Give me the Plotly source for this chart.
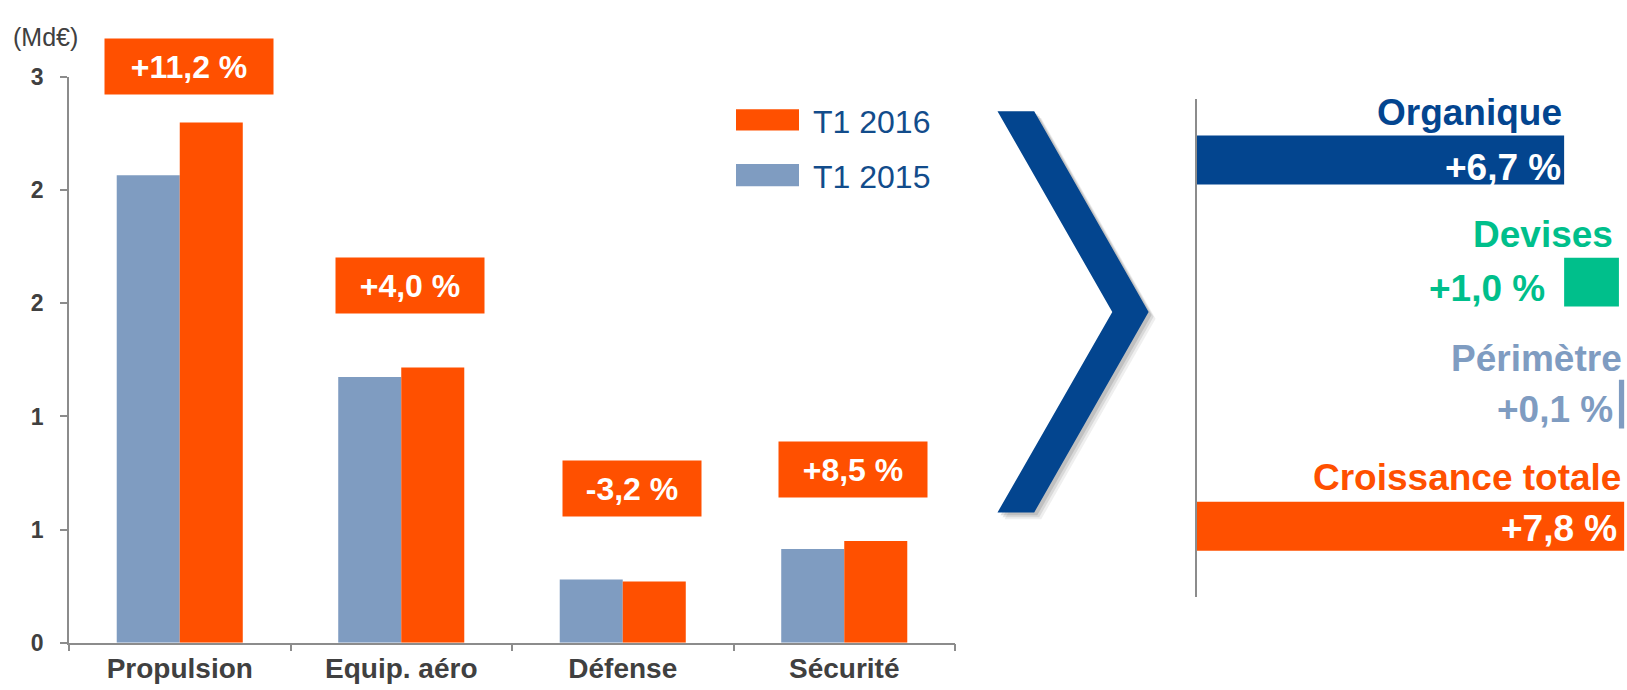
import plotly.graph_objects as go

# ---------------- data ----------------
categories = ["Propulsion", "Equip. aéro", "Défense", "Sécurité"]
t1_2015 = [2.48, 1.41, 0.335, 0.497]
t1_2016 = [2.76, 1.46, 0.324, 0.539]
growth_labels = ["+11,2 %", "+4,0 %", "-3,2 %", "+8,5 %"]
y_ticks = [0, 0.6, 1.2, 1.8, 2.4, 3.0]

bridge_cats = ["Organique", "Devises", "Périmètre", "Croissance totale"]
bridge_vals = [6.7, 1.0, 0.1, 7.8]
bridge_labels = ["+6,7 %", "+1,0 %", "+0,1 %", "+7,8 %"]

# ---------------- styles ----------------
W, H = 1627, 690
ORANGE = "#FF5000"
GREYBLUE = "#7F9CC1"
DARKBLUE = "#03458F"
GREEN = "#00BF8B"
TXT = "#404040"
AXIS = "#8C8C8C"
SANS = "Liberation Sans, Arial, sans-serif"


def fx(px):
    return px / W


def fy(py):
    return 1 - py / H


fig = go.Figure()

fig.add_trace(go.Bar(x=categories, y=t1_2015, name="T1 2015",
                     marker=dict(color=GREYBLUE, line=dict(width=0)),
                     xaxis="x", yaxis="y", showlegend=False))
fig.add_trace(go.Bar(x=categories, y=t1_2016, name="T1 2016",
                     marker=dict(color=ORANGE, line=dict(width=0)),
                     xaxis="x", yaxis="y", showlegend=False))

# right bridge chart
bases = [0, bridge_vals[0], bridge_vals[0] + bridge_vals[1], 0]
bridge_colors = [DARKBLUE, GREEN, GREYBLUE, ORANGE]
fig.add_trace(go.Bar(y=bridge_cats, x=bridge_vals, base=bases, orientation="h",
                     marker=dict(color=bridge_colors, line=dict(width=0)),
                     width=0.4, xaxis="x3", yaxis="y3", showlegend=False))

annotations = []

# growth boxes on the left chart (vertical placement in pixels)
box_cy = [55.3, 283.5, 494.5, 474.5]
box_w = [168, 148, 138, 148]
for i, cat in enumerate(categories):
    annotations.append(dict(
        x=cat, y=fy(box_cy[i]), xref="x", yref="paper",
        text="<b>" + growth_labels[i] + "</b>", showarrow=False,
        xshift=9, bgcolor=ORANGE, width=box_w[i], height=55, borderpad=0,
        font=dict(family=SANS, size=32, color="white"),
        xanchor="center", yanchor="middle"))

# unit label
annotations.append(dict(x=fx(11), y=fy(25), xref="paper", yref="paper",
                        text="(Md€)", showarrow=False, xanchor="left",
                        yanchor="middle",
                        font=dict(family=SANS, size=25, color=TXT)))

# manual legend
leg_items = [("T1 2016", ORANGE, 100, 122), ("T1 2015", GREYBLUE, 157, 180)]
shapes = []
for name, col, y0, y1 in leg_items:
    shapes.append(dict(type="rect", xref="paper", yref="paper",
                       x0=fx(736), x1=fx(799), y0=fy(y1), y1=fy(y0),
                       fillcolor=col, line=dict(width=0)))
    annotations.append(dict(x=fx(811), y=fy((y0 + y1) / 2 + 2), xref="paper",
                            yref="paper", text=name, showarrow=False,
                            xanchor="left", yanchor="middle",
                            font=dict(family=SANS, size=32, color="#124C8B")))

# chevron with soft shadow
chev = [(997.5, 102), (1034.2, 102), (1148.6, 310.7), (1034.2, 519),
        (997.5, 519), (1112.3, 310.7)]


def chev_path(dx, dy):
    pts = ["{:.5f},{:.5f}".format(fx(px + dx), fy(py + dy)) for px, py in chev]
    return "M" + " L".join(pts) + " Z"


for d, op in [(7, 0.10), (5, 0.15), (3, 0.2)]:
    shapes.append(dict(type="path", xref="paper", yref="paper",
                       path=chev_path(d, d), fillcolor="#606060", opacity=op,
                       line=dict(width=0), layer="below"))
shapes.append(dict(type="path", xref="paper", yref="paper",
                   path=chev_path(0, 0), fillcolor=DARKBLUE,
                   line=dict(width=0)))

# bridge labels
title_cols = [DARKBLUE, GREEN, GREYBLUE, ORANGE]
title_xshift = [-1, -5, -1, -2]
title_yshift = [47, 48, 45.5, 49]
ends = [b + v for b, v in zip(bases, bridge_vals)]
for i, cat in enumerate(bridge_cats):
    annotations.append(dict(x=ends[i], y=cat, xref="x3", yref="y3",
                            text="<b>" + cat + "</b>", showarrow=False,
                            xanchor="right", yanchor="middle", borderpad=0,
                            xshift=title_xshift[i], yshift=title_yshift[i],
                            font=dict(family=SANS, size=37,
                                      color=title_cols[i])))
# values
val_x = [ends[0], bases[1], bases[2], ends[3]]
val_xshift = [-2, -18, -5, -6]
val_yshift = [-8, -6, -5.5, -2]
val_col = ["white", GREEN, GREYBLUE, "white"]
for i, cat in enumerate(bridge_cats):
    annotations.append(dict(x=val_x[i], y=cat, xref="x3", yref="y3",
                            text="<b>" + bridge_labels[i] + "</b>",
                            showarrow=False, xanchor="right", yanchor="middle",
                            borderpad=0,
                            xshift=val_xshift[i], yshift=val_yshift[i],
                            font=dict(family=SANS, size=37,
                                      color=val_col[i])))

tick_text = ["<b>{:.0f}</b>".format(v) for v in y_ticks]

fig.update_layout(
    width=W, height=H,
    margin=dict(l=0, r=0, t=0, b=0),
    paper_bgcolor="white", plot_bgcolor="white",
    barmode="group", bargap=0.431, bargroupgap=0,
    font=dict(family=SANS, color=TXT),
    xaxis=dict(type="category", domain=[fx(69), fx(955)], range=[-0.5, 3.5],
               showline=True, linecolor=AXIS, linewidth=1.5,
               ticks="outside", tickson="boundaries", ticklen=7,
               tickcolor=AXIS, tickwidth=1.5, showgrid=False, zeroline=False,
               tickprefix="<b>", ticksuffix="</b>",
               tickfont=dict(family=SANS, size=28, color=TXT), anchor="y"),
    yaxis=dict(domain=[fy(654.3), fy(66.7)], range=[0, 3], tickvals=y_ticks,
               ticktext=tick_text,
               showline=True, linecolor=AXIS, linewidth=1.5, ticks="outside",
               ticklen=7, tickcolor=AXIS, tickwidth=1.5, showgrid=False,
               zeroline=False, ticklabelstandoff=12,
               tickfont=dict(family=SANS, size=23, color=TXT), anchor="x"),
    xaxis3=dict(domain=[fx(1197), fx(1624.4)], range=[0, 7.8],
                visible=False, anchor="y3"),
    yaxis3=dict(domain=[fy(606.6), fy(89.3)], type="category",
                autorange="reversed", showline=True, linecolor=AXIS,
                linewidth=1.5, showticklabels=False, ticks="",
                showgrid=False, zeroline=False, anchor="x3"),
    annotations=annotations,
    shapes=shapes,
    showlegend=False,
)

fig.write_html(
    "out.html",
    config={"displayModeBar": False},
    post_script="document.body.style.margin='0';"
                "document.body.style.overflow='hidden';",
)
